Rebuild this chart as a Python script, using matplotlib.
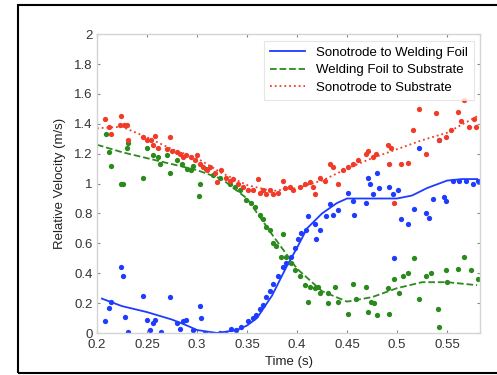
import matplotlib.pyplot as plt
from matplotlib.patches import Rectangle
import numpy as np

plt.rcParams['font.family'] = ['Liberation Sans', 'DejaVu Sans']

# scatter: sonotrode to welding foil (blue)
blue_t = [0.208, 0.212, 0.214, 0.224, 0.226, 0.228, 0.231, 0.246, 0.25, 0.253, 0.256, 0.258,
          0.264, 0.273, 0.28, 0.283, 0.286, 0.289, 0.296, 0.303, 0.304, 0.308, 0.316, 0.323,
          0.329, 0.334, 0.339, 0.344, 0.351, 0.356, 0.359, 0.363, 0.366, 0.369, 0.373, 0.376,
          0.381, 0.386, 0.389, 0.394, 0.398, 0.401, 0.404, 0.409, 0.411, 0.418, 0.419, 0.423,
          0.429, 0.433, 0.436, 0.441, 0.451, 0.456, 0.457, 0.469, 0.471, 0.473, 0.476, 0.48,
          0.482, 0.492, 0.496, 0.501, 0.497, 0.504, 0.511, 0.517, 0.522, 0.529, 0.532, 0.536,
          0.542, 0.547, 0.549, 0.556, 0.562, 0.569, 0.576, 0.581]
blue_v = [0.08, 0.17, 0.21, 0.44, 0.38, 0.11, 0.01, 0.25, 0.09, 0.02, 0.07, 0.09,
          0.01, 0.24, 0.07, 0.03, 0.08, 0.09, 0.02, 0.18, 0.10, 0.0, -0.01, 0.0,
          -0.01, 0.03, 0.02, 0.04, 0.08, 0.10, 0.12, 0.16, 0.19, 0.24, 0.28, 0.33,
          0.38, 0.44, 0.47, 0.51, 0.57, 0.63, 0.67, 0.69, 0.78, 0.73, 0.63, 0.69,
          0.78, 0.86, 0.79, 0.82, 0.94, 0.88, 0.79, 0.87, 1.04, 1.0, 0.93, 1.07,
          0.97, 0.98, 0.93, 0.96, 0.50, 0.76, 0.73, 0.83, 1.24, 0.80, 0.77, 0.90,
          1.29, 0.91, 0.88, 1.02, 1.02, 1.02, 1.0, 1.02]

# scatter: welding foil to substrate (green)
green_t = [0.209, 0.212, 0.214, 0.224, 0.226, 0.23, 0.231, 0.246, 0.25, 0.256, 0.261, 0.263,
           0.27, 0.273, 0.28, 0.285, 0.29, 0.294, 0.296, 0.303, 0.302, 0.309, 0.316, 0.323,
           0.333, 0.338, 0.343, 0.349, 0.354, 0.358, 0.363, 0.366, 0.369, 0.373, 0.376, 0.379,
           0.386, 0.384, 0.389, 0.394, 0.398, 0.403, 0.408, 0.411, 0.413, 0.418, 0.421, 0.423,
           0.431, 0.431, 0.438, 0.441, 0.451, 0.456, 0.459, 0.469, 0.471, 0.474, 0.477, 0.48,
           0.491, 0.492, 0.497, 0.502, 0.506, 0.511, 0.517, 0.522, 0.529, 0.534, 0.541, 0.542,
           0.549, 0.55, 0.561, 0.567, 0.574, 0.581]
green_v = [1.33, 1.21, 1.12, 1.0, 0.995, 1.24, 1.27, 1.04, 1.24, 1.19, 1.18, 1.13,
           1.19, 1.07, 1.16, 1.13, 1.10, 1.09, 1.12, 1.0, 0.92, 1.10, 1.06, 1.04,
           1.0, 0.98, 0.96, 0.89, 0.87, 0.84, 0.79, 0.76, 0.71, 0.69, 0.60, 0.58,
           0.66, 0.51, 0.51, 0.47, 0.42, 0.38, 0.32, 0.21, 0.31, 0.30, 0.31, 0.27,
           0.27, 0.20, 0.31, 0.21, 0.13, 0.33, 0.23, 0.31, 0.14, 0.21, 0.20, 0.12,
           0.30, 0.13, 0.36, 0.27, 0.38, 0.40, 0.50, 0.23, 0.38, 0.40, 0.16, 0.04,
           0.42, 0.34, 0.43, 0.51, 0.42, 0.36]

# scatter: sonotrode to substrate (red)
red_t = [0.208, 0.212, 0.214, 0.224, 0.223, 0.227, 0.23, 0.231, 0.246, 0.25, 0.254, 0.258,
         0.256, 0.261, 0.273, 0.27, 0.275, 0.28, 0.283, 0.286, 0.289, 0.294, 0.3, 0.298,
         0.303, 0.306, 0.31, 0.313, 0.318, 0.32, 0.324, 0.329, 0.333, 0.336, 0.341, 0.346,
         0.351, 0.356, 0.361, 0.363, 0.366, 0.369, 0.373, 0.376, 0.381, 0.386, 0.388, 0.393,
         0.396, 0.403, 0.408, 0.413, 0.416, 0.418, 0.423, 0.428, 0.433, 0.436, 0.441, 0.446,
         0.451, 0.456, 0.461, 0.469, 0.471, 0.476, 0.479, 0.491, 0.494, 0.492, 0.497, 0.504,
         0.511, 0.516, 0.522, 0.529, 0.539, 0.542, 0.549, 0.554, 0.561, 0.564, 0.567, 0.572,
         0.579, 0.577]
red_v = [1.43, 1.38, 1.33, 1.45, 1.39, 1.39, 1.39, 1.29, 1.31, 1.29, 1.29, 1.32,
         1.26, 1.24, 1.31, 1.23, 1.22, 1.21, 1.20, 1.18, 1.19, 1.18, 1.19, 1.16,
         1.13, 1.11, 1.09, 1.11, 1.07, 1.01, 1.09, 1.04, 1.02, 1.03, 1.0, 0.98,
         0.96, 0.96, 1.03, 0.94, 0.96, 0.93, 0.96, 0.93, 0.94, 1.02, 0.97, 0.98,
         0.96, 0.98, 1.0, 1.01, 0.98, 0.93, 1.04, 1.02, 1.13, 1.11, 1.0, 1.09,
         1.11, 1.13, 1.16, 1.20, 1.22, 1.18, 1.20, 1.26, 1.24, 1.13, 0.87, 1.13,
         1.14, 1.36, 1.50, 1.20, 1.47, 1.29, 1.31, 1.36, 1.48, 1.42, 1.56, 1.38,
         1.38, 1.43]

# fitted curves
blue_fit_t = [0.205, 0.225, 0.25, 0.275, 0.29, 0.3, 0.32, 0.34, 0.35, 0.36, 0.375, 0.39,
              0.4, 0.41, 0.425, 0.44, 0.45, 0.475, 0.5, 0.515, 0.53, 0.55, 0.565, 0.58]
blue_fit_v = [0.23, 0.18, 0.14, 0.09, 0.05, 0.02, 0.0, 0.02, 0.05, 0.10, 0.25, 0.45,
              0.57, 0.70, 0.80, 0.87, 0.90, 0.90, 0.90, 0.92, 0.97, 1.02, 1.03, 1.03]
green_fit_t = [0.2, 0.225, 0.25, 0.275, 0.3, 0.325, 0.35, 0.375, 0.4, 0.425, 0.45, 0.475,
               0.5, 0.525, 0.55, 0.58]
green_fit_v = [1.26, 1.21, 1.17, 1.13, 1.09, 1.03, 0.90, 0.66, 0.43, 0.28, 0.21, 0.24,
               0.30, 0.34, 0.34, 0.32]
red_fit_t = [0.2, 0.225, 0.25, 0.275, 0.3, 0.325, 0.35, 0.375, 0.4, 0.425, 0.45, 0.475,
             0.5, 0.525, 0.55, 0.58]
red_fit_v = [1.37, 1.38, 1.31, 1.23, 1.17, 1.07, 0.99, 0.95, 0.97, 1.02, 1.10, 1.17,
             1.23, 1.29, 1.34, 1.45]

labels = ['Sonotrode to Welding Foil', 'Welding Foil to Substrate', 'Sonotrode to Substrate']
c_blue, c_green, c_red = '#1e3cff', '#2a8a1c', '#f23a28'

fig = plt.figure(figsize=(4.97, 3.75), dpi=100)
ax = fig.add_axes([0.195, 0.112, 0.771, 0.797])

# black frame round the figure
fig.patches.append(Rectangle((0.036, 0.005), 1.0, 0.982, transform=fig.transFigure,
                             fill=False, edgecolor='black', linewidth=1.5))

ax.plot(blue_fit_t, blue_fit_v, '-', color=c_blue, linewidth=1.3, label=labels[0])
ax.plot(green_fit_t, green_fit_v, '--', color=c_green, linewidth=1.3, label=labels[1])
ax.plot(red_fit_t, red_fit_v, ':', color=c_red, linewidth=1.3, label=labels[2])

ax.plot(blue_t, blue_v, 'o', color=c_blue, markersize=3.8, markeredgewidth=0)
ax.plot(green_t, green_v, 'o', color=c_green, markersize=3.8, markeredgewidth=0)
ax.plot(red_t, red_v, 'o', color=c_red, markersize=3.8, markeredgewidth=0)

ax.set_xlim(0.2, 0.583)
ax.set_ylim(0, 2)
ax.set_xticks(np.arange(0.2, 0.56, 0.05))
ax.set_xticklabels(['0.2', '0.25', '0.3', '0.35', '0.4', '0.45', '0.5', '0.55'])
ax.set_yticks(np.arange(0, 2.01, 0.2))
ax.set_yticklabels(['0', '0.2', '0.4', '0.6', '0.8', '1', '1.2', '1.4', '1.6', '1.8', '2'])
ax.tick_params(direction='in', length=2, width=0.8, color='#888888', labelsize=9.5,
               labelcolor='#333333', top=True, right=True, pad=3)
ax.tick_params(axis='x', pad=4)
for s in ax.spines.values():
    s.set_color('#d4d4d4')
    s.set_linewidth(1.0)

ax.set_xlabel('Time (s)', fontsize=9.5, color='#222222', labelpad=4)
ax.set_ylabel('Relative Velocity (m/s)', fontsize=9.5, color='#222222', labelpad=6)

leg = ax.legend(loc='upper right', fontsize=9.5, frameon=True, fancybox=False,
                handlelength=2.7, borderaxespad=0.5, labelspacing=0.4, borderpad=0.45)
leg.get_frame().set_edgecolor('#e0e0e0')
leg.get_frame().set_linewidth(0.8)

plt.savefig('out.png', dpi=100)
